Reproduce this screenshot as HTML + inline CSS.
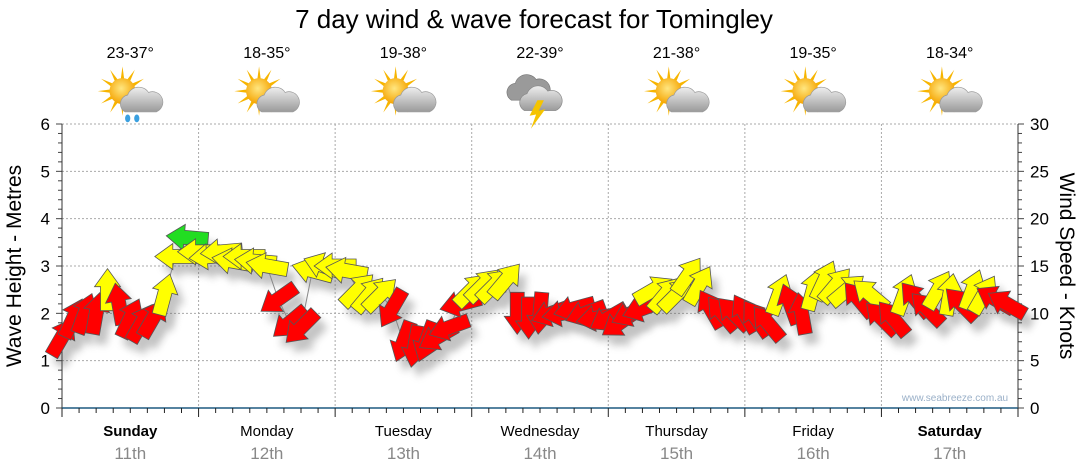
<!DOCTYPE html>
<html><head><meta charset="utf-8">
<style>
body{margin:0;background:#fff;font-family:"Liberation Sans",sans-serif}
svg{display:block}
</style></head>
<body>
<svg id="chart" width="1080" height="475" viewBox="0 0 1080 475">
<defs>
<filter id="sh" x="-50%" y="-50%" width="200%" height="200%"><feGaussianBlur stdDeviation="4"/></filter>
<radialGradient id="sunG" cx="0.45" cy="0.4" r="0.6"><stop offset="0" stop-color="#ffe680"/><stop offset="1" stop-color="#f5a300"/></radialGradient>
<linearGradient id="cloudG" x1="0" y1="0" x2="0" y2="1"><stop offset="0" stop-color="#eeeeee"/><stop offset="1" stop-color="#9a9a9a"/></linearGradient>
</defs>
<text x="534" y="28" font-size="26" text-anchor="middle" fill="#000">7 day wind &amp; wave forecast for Tomingley</text>
<g id="grid"></g>
<g id="axes"></g>
<g id="icons"></g>
<g id="shadows" opacity="0.35"></g>
<polyline id="trail" fill="none" stroke="#888" stroke-width="1"></polyline>
<g id="arrows"></g>
<text x="955" y="401" font-size="10" fill="#9ab0c8" text-anchor="middle">www.seabreeze.com.au</text>
<text transform="translate(21,266) rotate(-90)" font-size="21" text-anchor="middle">Wave Height - Metres</text>
<text transform="translate(1060,266) rotate(90)" font-size="21" text-anchor="middle">Wind Speed - Knots</text>
</svg>
<script>
const days = ["Sunday","Monday","Tuesday","Wednesday","Thursday","Friday","Saturday"];
const dates = ["11th","12th","13th","14th","15th","16th","17th"];
const boldDays = [true,false,false,false,false,false,true];
const temps = ["23-37°","18-35°","19-38°","22-39°","21-38°","19-35°","18-34°"];
const iconTypes = ["rain","sun","sun","storm","sun","sun","sun"];
const metreTicks = [0,1,2,3,4,5,6];
const knotTicks = [0,5,10,15,20,25,30];
const windKnots = [
7.5,9.5,10,10,12.5,11,9.5,9,9.5,12,16,18,
16.5,16,16.5,15.5,16,15.5,15,11.5,9,8.5,14.5,15,
15,14.5,12.5,12,12,10.5,7,6.5,7,7.5,8.5,11,
12.5,13,13,13.5,10,9.5,10,10,10,10.5,10,9.5,
9.5,9,10,10.5,12.5,12,12,14,13,10.5,10,10,
10,9.5,9,12,11,10,12.5,13.5,13,12.5,11.5,12,
9.5,9.5,12,11.5,10.5,12.5,12,11,12.5,12,11.5,11];
const windDir = [
30,25,20,10,0,350,25,30,30,15,270,275,
270,265,265,280,270,275,280,235,230,225,285,290,
270,280,45,40,45,210,200,190,200,240,250,255,
45,45,45,40,180,180,185,250,260,255,250,260,
240,235,245,250,60,40,45,35,30,330,320,315,
330,325,320,20,340,350,15,25,40,50,320,310,
315,320,20,320,315,30,10,315,20,30,300,300];

const X0=62, X1=1018, Y0=408, Y1=124;
const dayW=(X1-X0)/7;
const xTime = h => X0 + h*dayW/24;
const yKnots = k => Y0 - k*(Y0-Y1)/30;
const yMetres = m => Y0 - m*(Y0-Y1)/6;
const NS="http://www.w3.org/2000/svg";
function mk(tag, attrs, parent){const e=document.createElementNS(NS,tag);for(const k in attrs)e.setAttribute(k,attrs[k]);parent.appendChild(e);return e;}
const grid=document.getElementById('grid'), axes=document.getElementById('axes');

metreTicks.forEach(m=>{
  if(m>0){const l=mk('line',{x1:X0,x2:X1,y1:yMetres(m),y2:yMetres(m),stroke:'#aaa','stroke-dasharray':'2,2'},grid);
  
  }
  const t=mk('text',{x:X0-12,y:yMetres(m)+6,'font-size':17,'text-anchor':'end'},axes);t.textContent=m;
  
  
});
for(let i=0;i<=30;i++){const y=Y0-i*(Y0-Y1)/30;const big=i%5==0;
  mk('line',{x1:X0-(big?6:4),x2:X0,y1:y,y2:y,stroke:'#444'},axes);
  mk('line',{x1:X1,x2:X1+(big?6:4),y1:y,y2:y,stroke:'#444'},axes);}
knotTicks.forEach(k=>{const t=mk('text',{x:X1+12,y:yKnots(k)+6,'font-size':17},axes);t.textContent=k;
  
  });
for(let d=1;d<7;d++){const x=X0+d*dayW;const l=mk('line',{x1:x,x2:x,y1:Y1,y2:Y0,stroke:'#aaa','stroke-dasharray':'2,2'},grid);
  
  }
mk('line',{x1:X0,x2:X0,y1:Y1,y2:Y0,stroke:'#333'},axes);
mk('line',{x1:X1,x2:X1,y1:Y1,y2:Y0,stroke:'#333'},axes);
mk('line',{x1:X0,x2:X1,y1:Y0,y2:Y0,stroke:'#1e5a80','stroke-width':1.5},axes);
for(let h=0;h<=168;h+=3){const x=xTime(h);const big=h%24==0;mk('line',{x1:x,x2:x,y1:Y0,y2:Y0+(big?9:5),stroke:'#222'},axes);}
days.forEach((d,i)=>{const cx=X0+(i+0.5)*dayW;
  const t=mk('text',{x:cx,y:436,'font-size':15,'text-anchor':'middle','font-weight':boldDays[i]?'bold':'normal'},axes);t.textContent=d;
  
  
  const t2=mk('text',{x:cx,y:459,'font-size':17,'text-anchor':'middle',fill:'#888'},axes);t2.textContent=dates[i];
  
  
  const t3=mk('text',{x:cx,y:58,'font-size':16,'text-anchor':'middle'},axes);t3.textContent=temps[i];
  
  
});
const icons=document.getElementById('icons');
iconTypes.forEach((type,i)=>{const cx=X0+(i+0.5)*dayW;const g=mk('g',{transform:`translate(${cx},95) scale(1.3)`},icons);
  
  
  if(type!=='storm'){
    for(let a=0;a<360;a+=30){const r=a*Math.PI/180;mk('polygon',{points:`${-6+Math.cos(r-0.15)*9},${-3+Math.sin(r-0.15)*9} ${-6+Math.cos(r)*19},${-3+Math.sin(r)*19} ${-6+Math.cos(r+0.15)*9},${-3+Math.sin(r+0.15)*9}`,fill:'#f7b500'},g);}
    mk('circle',{cx:-6,cy:-3,r:10,fill:'url(#sunG)'},g);
    mk('path',{d:'M-4,13 a7,7 0 0 1 2,-13 a9,9 0 0 1 16,-2 a7,7 0 0 1 6,15 z',fill:'url(#cloudG)',stroke:'#999','stroke-width':0.5},g);
    if(type==='rain'){mk('ellipse',{cx:-2,cy:18,rx:2,ry:3,fill:'#3aa0e0'},g);mk('ellipse',{cx:5,cy:18,rx:2,ry:3,fill:'#3aa0e0'},g);}
  } else {
    mk('path',{d:'M-22,4 a7,7 0 0 1 3,-13 a9,9 0 0 1 16,-3 a7,7 0 0 1 5,16 z',fill:'#9a9a9a',stroke:'#777','stroke-width':0.5},g);
    mk('path',{d:'M-12,12 a7,7 0 0 1 2,-13 a9,9 0 0 1 16,-2 a7,7 0 0 1 6,15 z',fill:'url(#cloudG)',stroke:'#888','stroke-width':0.5},g);
    mk('polygon',{points:'-2,4 -8,16 -3,15 -7,26 4,11 -1,12 3,4',fill:'#f5c400'},g);
  }
});
const arrows=document.getElementById('arrows'), shadows=document.getElementById('shadows');
const shape="-21,-7 3,-7 3,-13 21,0 3,13 3,7 -21,7";
const pts=[];
windKnots.forEach((k,i)=>{
  const x=xTime(i*2), y=yKnots(k);pts.push(x+','+y);
  const rot=windDir[i]-90;
  const col=k>=17.5?'#22dd22':(k>=12?'#ffff00':'#ff0000');
  mk('polygon',{points:shape,fill:'#555',filter:'url(#sh)',transform:`translate(${x+7},${y+10}) rotate(${rot})`},shadows);
  const p=mk('polygon',{points:shape,fill:col,stroke:'#555','stroke-width':0.8,transform:`translate(${x},${y}) rotate(${rot})`},arrows);
  
  
});
document.getElementById('trail').setAttribute('points',pts.join(' '));
</script>
</body></html>
